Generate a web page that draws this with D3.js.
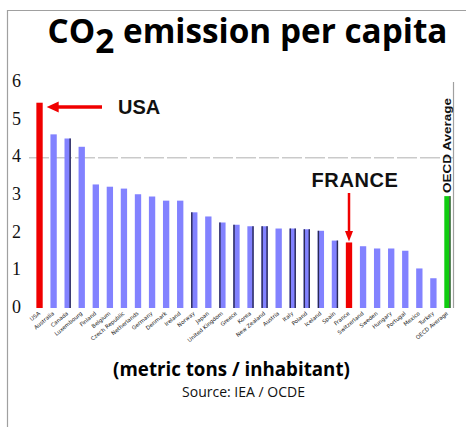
<!DOCTYPE html>
<html>
<head>
<meta charset="utf-8">
<script src="https://cdn.jsdelivr.net/npm/d3@7/dist/d3.min.js"></script>
<style>
  html, body { margin: 0; padding: 0; background: #fff; }
  svg { display: block; }
</style>
</head>
<body>
<svg id="chart" width="466" height="427"></svg>
<script>
// ---- data ----
const countries = ["USA","Australia","Canada","Luxembourg","Finland","Belgium","Czech Republic","Netherlands","Germany","Denmark","Ireland","Norway","Japan","United Kingdom","Greece","Korea","New Zealand","Austria","Italy","Poland","Iceland","Spain","France","Switzerland","Sweden","Hungary","Portugal","Mexico","Turkey","OECD Average"];
const values = [5.45,4.61,4.50,4.28,3.28,3.22,3.17,3.02,2.96,2.85,2.85,2.54,2.43,2.27,2.21,2.17,2.17,2.11,2.11,2.09,2.05,1.79,1.74,1.64,1.58,1.58,1.52,1.05,0.79,2.97];
const yTicks = [0,1,2,3,4,5,6];
const gridValues = [4];
const highlighted = ["USA","France"];
const averageName = "OECD Average";
// dark side edges seen on some bars (style only)
const edges = {"Canada":"r","Norway":"l","United Kingdom":"l","Greece":"l","Korea":"r","New Zealand":"lr","Italy":"lr","Poland":"lr","Iceland":"l","Spain":"r","OECD Average":"r"};

const svg = d3.select("#chart");
svg.append("rect").attr("width",466).attr("height",427).attr("fill","#fff");

// frame
svg.append("line").attr("x1",7).attr("x2",466).attr("y1",10.5).attr("y2",10.5).attr("stroke","#a0a0a0").attr("stroke-width",1.2);
svg.append("line").attr("x1",7.5).attr("x2",7.5).attr("y1",10).attr("y2",427).attr("stroke","#a0a0a0").attr("stroke-width",1.2);

const x = d3.scaleBand().domain(countries).range([32.5, 454.5]).paddingInner(0.55).paddingOuter(0.275);
const y = d3.scaleLinear().domain([0,6]).range([308, 82]);

// right plot border
svg.append("line").attr("x1",453.5).attr("x2",453.5).attr("y1",y(6)).attr("y2",y(0)).attr("stroke","#a0a0a0").attr("stroke-width",1.2);

// gridline
svg.selectAll("line.grid").data(gridValues).join("line").attr("class","grid")
  .attr("x1",29).attr("x2",453).attr("y1",d=>y(d)+0.5).attr("y2",d=>y(d)+0.5)
  .attr("stroke","#b0b0b0").attr("stroke-width",1).attr("stroke-dasharray","20,3");

// y axis (labels only)
const yAxis = d3.axisLeft(y).tickValues(yTicks).tickSize(0).tickFormat(d3.format("d"));
const gy = svg.append("g").attr("transform","translate(23,0)").call(yAxis);
gy.select(".domain").remove();
gy.selectAll("text")
  .style("font-family","'Liberation Serif', 'Times New Roman', serif")
  .style("font-size","18px")
  .attr("fill","#111")
  .attr("x",-11).attr("text-anchor","start").attr("dy","0.25em");

// bars
const color = d => d===averageName ? "#10cc10" : (highlighted.includes(d) ? "#f00000" : "#8282ff");
const bars = svg.append("g");
bars.selectAll("rect").data(countries).join("rect")
  .attr("x",d=>x(d)).attr("width",x.bandwidth())
  .attr("y",(d,i)=>y(values[i])).attr("height",(d,i)=>y(0)-y(values[i]))
  .attr("fill",color);
// dark edges
countries.forEach((c,i)=>{
  const e = edges[c]; if(!e) return;
  const col = c===averageName ? "#555" : "#2a2a55";
  if(e.includes("l")) bars.append("rect").attr("x",x(c)).attr("width",1.4).attr("y",y(values[i])).attr("height",y(0)-y(values[i])).attr("fill",col);
  if(e.includes("r")) bars.append("rect").attr("x",x(c)+x.bandwidth()-1.4).attr("width",1.4).attr("y",y(values[i])).attr("height",y(0)-y(values[i])).attr("fill",col);
});

// x labels (tiny rotated)
const gx = svg.append("g");
gx.selectAll("text").data(countries).join("text")
  .attr("transform",d=>`translate(${x(d)+x.bandwidth()/2+1},${y(0)+6}) rotate(-40)`)
  .attr("text-anchor","end").attr("font-family","'DejaVu Sans', sans-serif").attr("font-size",5.5).attr("fill","#222")
  .text(d=>d);

// OECD Average label
svg.append("text")
  .attr("transform",`translate(${x(averageName)+x.bandwidth()/2+4},${(98+193)/2}) rotate(-90)`)
  .attr("text-anchor","middle").attr("font-family","'Liberation Sans', Arial, sans-serif").attr("font-weight","bold")
  .attr("font-size",11).attr("fill","#111")
  .attr("textLength",95).attr("lengthAdjust","spacingAndGlyphs")
  .text(averageName);

// USA annotation
const usa = countries[0];
const ay = 107;
svg.append("line").attr("x1",102).attr("x2",58).attr("y1",ay).attr("y2",ay).attr("stroke","#f00000").attr("stroke-width",3.5);
svg.append("path").attr("d",`M${x(usa)+x.bandwidth()+4},${ay} L${x(usa)+x.bandwidth()+16},${ay-5.5} L${x(usa)+x.bandwidth()+16},${ay+5.5} Z`).attr("fill","#f00000");
svg.append("text").attr("x",118).attr("y",114).attr("font-family","'Liberation Sans', Arial, sans-serif").attr("font-weight","bold").attr("font-size",20).attr("fill","#111").text("USA");

// France annotation
const fr = "France";
const fx = x(fr)+x.bandwidth()/2;
svg.append("line").attr("x1",fx).attr("x2",fx).attr("y1",193).attr("y2",233).attr("stroke","#f00000").attr("stroke-width",2.5);
svg.append("path").attr("d",`M${fx},${y(values[countries.indexOf(fr)])-1} L${fx-4},${231} L${fx+4},${231} Z`).attr("fill","#f00000");
svg.append("text").attr("x",355).attr("y",187).attr("text-anchor","middle").attr("font-family","'Liberation Sans', Arial, sans-serif").attr("font-weight","bold").attr("font-size",20).attr("letter-spacing",0.6).attr("fill","#111").text("FRANCE");

// fit helper
function fit(sel, target){
  const l = sel.node().getComputedTextLength();
  const fs = parseFloat(sel.attr("font-size"));
  sel.attr("font-size", fs*target/l);
}

// title
const title = svg.append("text").attr("x",247.5).attr("y",43).attr("text-anchor","middle")
  .attr("font-family","'Open Sans', sans-serif").attr("font-weight","bold").attr("font-size",30).attr("fill","#000");
title.append("tspan").text("CO");
title.append("tspan").attr("dy",10).text("2");
title.append("tspan").attr("dy",-10).text(" emission per capita");
fit(title, 400);

// subtitle & source
const sub = svg.append("text").attr("x",231.5).attr("y",376).attr("text-anchor","middle")
  .attr("font-family","'Open Sans', sans-serif").attr("font-weight","bold").attr("font-size",16).attr("fill","#000")
  .text("(metric tons / inhabitant)");
fit(sub, 237);
const src = svg.append("text").attr("x",243.5).attr("y",397).attr("text-anchor","middle")
  .attr("font-family","'Open Sans', sans-serif").attr("font-size",11).attr("fill","#111")
  .text("Source: IEA / OCDE");
fit(src, 123);
</script>
</body>
</html>
